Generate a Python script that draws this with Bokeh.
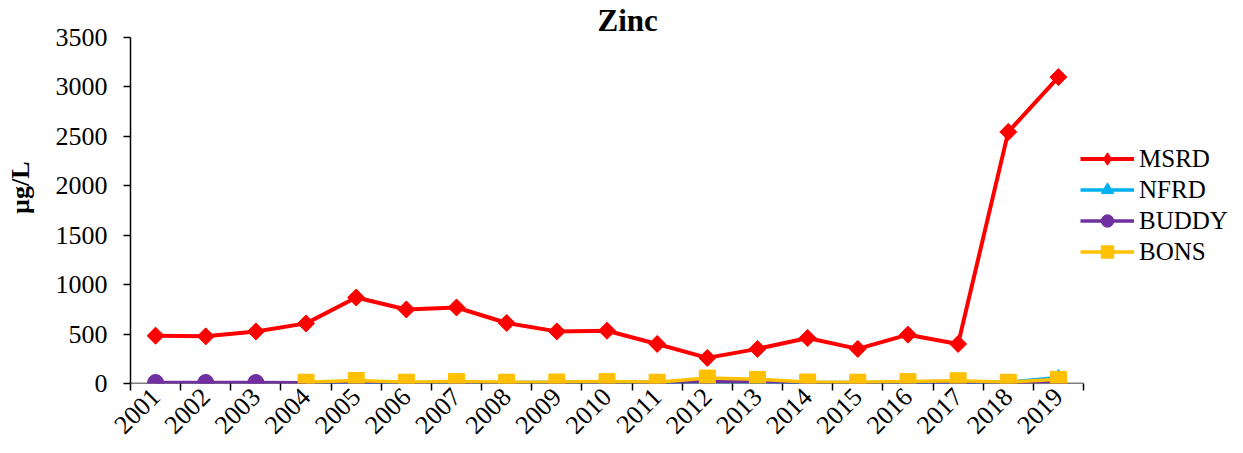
import math
from bokeh.plotting import figure
from bokeh.models import FixedTicker, Legend, LegendItem, Range1d
from bokeh.embed import file_html
from bokeh.resources import INLINE

years = [2001, 2002, 2003, 2004, 2005, 2006, 2007, 2008, 2009, 2010,
         2011, 2012, 2013, 2014, 2015, 2016, 2017, 2018, 2019]
year_labels = [str(y) for y in years]

msrd = [484, 477, 527, 608, 870, 749, 769, 612, 527, 534,
        400, 259, 350, 461, 350, 494, 400, 2545, 3100]
nfrd_years = years[3:]
nfrd = [8, 15, 10, 10, 10, 12, 12, 10, 20, 15, 10, 10, 10, 15, 12, 60]
buddy = [10, 10, 10, 8, 10, 8, 8, 8, 8, 10,
         10, 25, 22, 10, 8, 8, 10, 10, 22]
bons_years = years[3:]
bons = [13, 30, 13, 20, 13, 15, 20, 13, 55, 42, 15, 13, 20, 28, 13, 42]
y_ticks = [0, 500, 1000, 1500, 2000, 2500, 3000, 3500]

FONT = "Liberation Serif"

W, H = 1243, 453
FRAME_L, FRAME_R, FRAME_T, FRAME_B = 130, 1238, 36, 383
X0, X1 = years[0] - 0.5, years[-1] + 0.5
px_per_year = (1083 - 130) / (X1 - X0)
x_end = X0 + (FRAME_R - FRAME_L) / px_per_year

p = figure(width=W, height=H, output_backend="svg", toolbar_location=None,
           x_range=Range1d(X0, x_end), y_range=Range1d(0, y_ticks[-1]),
           min_border_left=FRAME_L, min_border_right=W - FRAME_R,
           min_border_top=FRAME_T, min_border_bottom=H - FRAME_B)
p.outline_line_color = None
p.xgrid.visible = False
p.ygrid.visible = False
p.background_fill_color = "white"
p.border_fill_color = "white"

p.title.text = "Zinc"
p.title.text_font = FONT
p.title.text_font_style = "bold"
p.title.text_font_size = "31px"
p.title.align = "left"
p.title.offset = 467
p.title.standoff = 0
p.title.text_color = "black"

# x axis (axis line drawn separately so it stops at the last category)
xa = p.xaxis[0]
xa.ticker = FixedTicker(ticks=years, minor_ticks=[y - 0.5 for y in years] + [X1])
xa.major_label_overrides = {y: l for y, l in zip(years, year_labels)}
xa.major_tick_out = 0
xa.major_tick_in = 0
xa.minor_tick_out = 7
xa.minor_tick_in = 0
xa.minor_tick_line_color = "black"
xa.minor_tick_line_width = 1.5
xa.major_label_orientation = math.pi / 4
xa.major_label_text_font = FONT
xa.major_label_text_font_size = "26px"
xa.major_label_text_color = "black"
xa.axis_line_color = None
xa.major_label_standoff = 2

p.segment(x0=[X0], y0=[0], x1=[X1], y1=[0], line_color="black", line_width=1.5)

# y axis
ya = p.yaxis[0]
ya.ticker = FixedTicker(ticks=y_ticks)
ya.major_tick_out = 7
ya.major_tick_in = 0
ya.minor_tick_line_color = None
ya.major_tick_line_color = "black"
ya.major_tick_line_width = 1.5
ya.axis_line_color = "black"
ya.axis_line_width = 1.5
ya.major_label_text_font = FONT
ya.major_label_text_font_size = "26px"
ya.major_label_text_color = "black"
ya.major_label_standoff = 16
ya.axis_label = "\u00a0" * 7 + "µg/L"
ya.axis_label_text_font = FONT
ya.axis_label_text_font_style = "bold"
ya.axis_label_text_font_size = "26px"
ya.axis_label_text_color = "black"
ya.axis_label_standoff = 18

items = []
l1 = p.line(years, msrd, line_color="#FF0000", line_width=4)
d1 = p.scatter(years, msrd, marker="diamond", size=16,
               fill_color="#FF0000", line_color="#FF0000")
s1 = p.scatter(years, msrd, marker="square", angle=math.pi / 4, size=12,
               fill_color="#FF0000", line_color="#FF0000")
items.append(LegendItem(label="MSRD", renderers=[l1, d1]))

l2 = p.line(nfrd_years, nfrd, line_color="#00B0F0", line_width=3.5)
s2 = p.scatter(nfrd_years, nfrd, marker="triangle", size=14,
               fill_color="#00B0F0", line_color="#00B0F0")
items.append(LegendItem(label="NFRD", renderers=[l2, s2]))

l3 = p.line(years, buddy, line_color="#7030A0", line_width=3.5)
s3 = p.scatter(years, buddy, marker="circle", size=16,
               fill_color="#7030A0", line_color="#7030A0")
items.append(LegendItem(label="BUDDY", renderers=[l3, s3]))

l4 = p.line(bons_years, bons, line_color="#FFC000", line_width=3.5)
s4 = p.scatter(bons_years, bons, marker="square", size=16,
               fill_color="#FFC000", line_color="#FFC000")
items.append(LegendItem(label="BONS", renderers=[l4, s4]))

legend = Legend(items=items, location=(950, 116), padding=0, margin=0,
                glyph_width=54, glyph_height=31, spacing=0, label_standoff=5,
                label_text_font=FONT, label_text_font_size="25px",
                label_text_color="black", border_line_color=None,
                background_fill_alpha=0)
p.add_layout(legend, "center")

open("out.html", "w").write(file_html(p, INLINE))
